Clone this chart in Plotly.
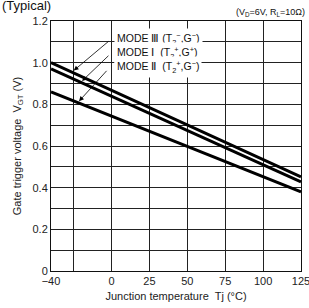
import plotly.graph_objects as go

temps = [-40, 125]
mode3 = [1.00, 0.452]
mode1 = [0.97, 0.428]
mode2 = [0.86, 0.38]

x_ticks = [-40, -25, 0, 25, 50, 75, 100, 125]
x_labels = ["−40", " ", "0", "25", "50", "75", "100", "125"]
y_ticks = [0, 0.1, 0.2, 0.3, 0.4, 0.5, 0.6, 0.7, 0.8, 0.9, 1.0, 1.1, 1.2]
y_labels = ["0", " ", "0.2", " ", "0.4", " ", "0.6", " ", "0.8", " ", "1.0", " ", "1.2"]

labels = ["MODE Ⅲ (T<sub>2</sub><sup>−</sup>,G<sup>−</sup>)",
          "MODE Ⅰ  (T<sub>2</sub><sup>+</sup>,G<sup>+</sup>)",
          "MODE Ⅱ  (T<sub>2</sub><sup>+</sup>,G<sup>−</sup>)"]
label_y = [1.115, 1.048, 0.981]
tails = [(-1.1, 1.108), (-1.1, 1.04), (-2.4, 0.968)]
tips = [(-25, 0.962), (-19.5, 0.912), (-21.5, 0.815)]

FONT = "Liberation Sans, Arial, sans-serif"

fig = go.Figure()
for ys in (mode3, mode1, mode2):
    fig.add_trace(go.Scatter(x=temps, y=ys, mode="lines",
                             line=dict(color="black", width=3), showlegend=False,
                             hoverinfo="skip"))

annots = []
for t, yv in zip(labels, label_y):
    annots.append(dict(x=1.5, y=yv, xref="x", yref="y", text=t, showarrow=False,
                       xanchor="left", yanchor="middle", bgcolor="white", borderpad=2,
                       font=dict(size=10.5, color="#111", family=FONT)))
for (tx, ty), (hx, hy) in zip(tails, tips):
    annots.append(dict(x=hx, y=hy, ax=tx, ay=ty, xref="x", yref="y", axref="x", ayref="y",
                       text="", showarrow=True, arrowhead=2, arrowsize=1.2,
                       arrowwidth=0.8, arrowcolor="black"))
annots.append(dict(x=-0.205, y=1.06, xref="paper", yref="paper", xanchor="left", yanchor="middle",
                   text="(Typical)", showarrow=False,
                   font=dict(size=13, color="#111", family=FONT)))
annots.append(dict(x=1.025, y=1.035, xref="paper", yref="paper", xanchor="right", yanchor="middle",
                   text="(V<sub>D</sub>=6V, R<sub>L</sub>=10Ω)", showarrow=False,
                   font=dict(size=9, color="#111", family=FONT)))

fig.update_layout(
    width=309, height=308,
    margin=dict(l=51, r=8, t=21, b=37),
    paper_bgcolor="white", plot_bgcolor="white",
    font=dict(family=FONT, size=11, color="#222"),
    annotations=annots,
)
fig.update_xaxes(range=[-40, 125], tickmode="array", tickvals=x_ticks, ticktext=x_labels,
                 showgrid=True, gridcolor="#222", gridwidth=1,
                 showline=True, linecolor="#111", linewidth=1, mirror=True,
                 ticks="", zeroline=False, automargin=False, ticklabeloverflow="allow",
                 title=dict(text="Junction temperature  Tj (°C)", standoff=6,
                            font=dict(size=11, color="#222")),
                 tickfont=dict(size=11, color="#222"))
fig.update_yaxes(range=[0, 1.2], tickmode="array", tickvals=y_ticks, ticktext=y_labels,
                 showgrid=True, gridcolor="#222", gridwidth=1,
                 showline=True, linecolor="#111", linewidth=1, mirror=True,
                 ticks="", zeroline=False, automargin=False,
                 title=dict(text="Gate trigger voltage  V<sub>GT</sub> (V)", standoff=8,
                            font=dict(size=11, color="#222")),
                 tickfont=dict(size=11, color="#222"))

fig.write_html("out.html", config={"displayModeBar": False},
               post_script="document.body.style.margin='0';")
